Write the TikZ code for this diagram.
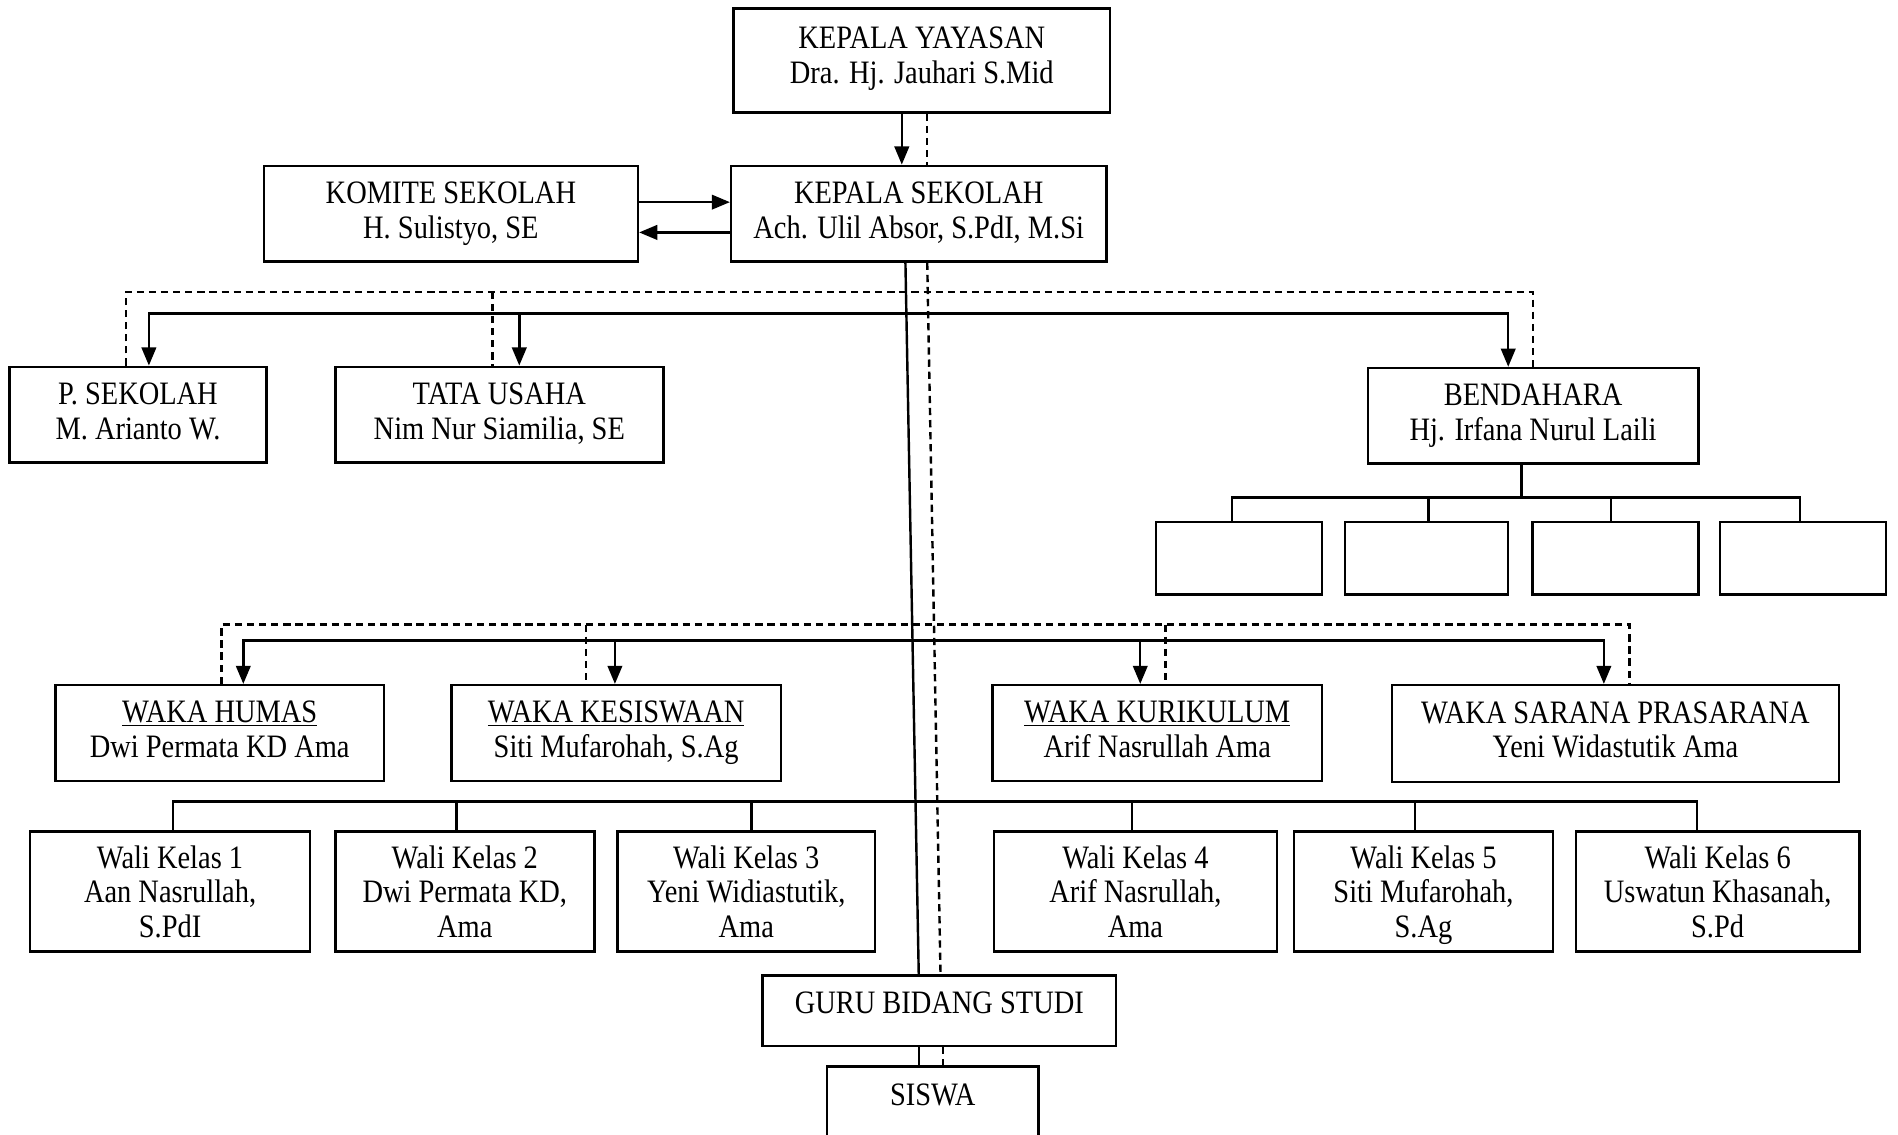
\documentclass[tikz,border=0pt]{standalone}
\usepackage{fontspec}
\setmainfont{Liberation Serif}[FakeStretch=0.87]
\usetikzlibrary{arrows.meta}

\tikzset{
    box/.style={draw, line width=2pt, align=center, inner sep=0pt, minimum height=79pt, text depth=6pt, font=\fontsize{27}{28.5}\selectfont},
    box wali/.style={box, minimum height=99pt},
    box empty/.style={draw, line width=2pt, inner sep=0pt, minimum width=137pt, minimum height=60pt},
    line/.style={line width=2pt},
    line dashed/.style={line width=2pt, dash pattern=on 6pt off 4pt},
    line arrow/.style={line, -{Triangle[length=15pt,width=12pt]}},
    line arrows/.style={line, {Triangle[length=15pt,width=12pt]}-{Triangle[length=15pt,width=12pt]}}
}

\begin{document}
\begin{tikzpicture}[x=1pt, y=-1pt]
        \useasboundingbox (0, 0) rectangle (1568, 937);

        % Pimpinan
        \node[box, minimum width=311pt, minimum height=86pt, text depth=9pt] (yayasan) at (761.5, 50) {KEPALA YAYASAN\\Dra. Hj. Jauhari S.Mid};
        \node[box, minimum width=310pt] (sekolah) at (759, 176.5) {KEPALA SEKOLAH\\Ach. Ulil Absor, S.PdI, M.Si};
        \node[box, minimum width=309pt] (komite) at (372.5, 176.5) {KOMITE SEKOLAH\\H. Sulistyo, SE};

        \draw[line arrow] ([xshift=-16.5pt]yayasan.south) -- ([xshift=-16.5pt]yayasan.south |- sekolah.north);
        \draw[line dashed] ([xshift=4.5pt]yayasan.south) -- ([xshift=4.5pt]yayasan.south |- sekolah.north);
        \draw[line arrow] ([yshift=9.5pt]komite.east) -- ([yshift=9.5pt]komite.east -| sekolah.west);
        \draw[line arrow] ([yshift=-15.5pt]sekolah.west) -- ([yshift=-15.5pt]sekolah.west -| komite.east);

        % Staf
        \node[box, minimum width=212pt] (psekolah) at (114, 342.5) {P. SEKOLAH\\M. Arianto W.};
        \node[box, minimum width=271pt] (tu) at (412.5, 342.5) {TATA USAHA\\Nim Nur Siamilia, SE};
        \node[box, minimum width=273pt] (bendahara) at (1266.5, 343.5) {BENDAHARA\\Hj. Irfana Nurul Laili};

        \coordinate (staffbus) at (0, 259);
        \coordinate (staffdash) at (0, 241);
        \draw[line arrows] ([xshift=9pt]psekolah.north) |- ([xshift=-20.5pt]bendahara.north |- staffbus) -- ([xshift=-20.5pt]bendahara.north);
        \draw[line arrow] ([xshift=16.5pt]tu.north |- staffbus) -- ([xshift=16.5pt]tu.north);
        \draw[line dashed] ([xshift=-10pt]psekolah.north) |- (bendahara.north |- staffdash) -- (bendahara.north);
        \draw[line dashed] ([xshift=-5.5pt]tu.north |- staffdash) -- ([xshift=-5.5pt]tu.north);

        % Bendahara
        \node[box empty] (e1) at (1023.5, 461) {};
        \node[box empty, minimum width=135pt] (e2) at (1178.5, 461) {};
        \node[box empty] (e3) at (1334.5, 461) {};
        \node[box empty] (e4) at (1489.5, 461) {};

        \coordinate (bendbus) at (0, 411);
        \draw[line] ([xshift=-9.5pt]bendahara.south) -- ([xshift=-9.5pt]bendahara.south |- bendbus);
        \draw[line] ([xshift=-5.5pt]e1.north) |- ([xshift=-2.5pt]e4.north |- bendbus) -- ([xshift=-2.5pt]e4.north);
        \foreach \n/\dx in {e2/1.5, e3/-3.5}
            \draw[line] ([xshift=\dx pt]\n.north |- bendbus) -- ([xshift=\dx pt]\n.north);

        % Waka
        \node[box, minimum width=271pt] (humas) at (181.5, 605.5) {\underline{WAKA HUMAS}\\Dwi Permata KD Ama};
        \node[box, minimum width=272pt] (kesiswaan) at (509, 605.5) {\underline{WAKA KESISWAAN}\\Siti Mufarohah, S.Ag};
        \node[box, minimum width=272pt] (kurikulum) at (956, 605.5) {\underline{WAKA KURIKULUM}\\Arif Nasrullah Ama};
        \node[box, minimum width=369pt, minimum height=80pt] (sarana) at (1334.5, 606) {WAKA SARANA PRASARANA\\Yeni Widastutik Ama};

        \coordinate (wakabus) at (0, 529);
        \coordinate (wakadash) at (0, 516);
        \draw[line arrows] ([xshift=19.5pt]humas.north) |- ([xshift=-9.5pt]sarana.north |- wakabus) -- ([xshift=-9.5pt]sarana.north);
        \foreach \n/\dx in {kesiswaan/-1, kurikulum/-14}
            \draw[line arrow] ([xshift=\dx pt]\n.north |- wakabus) -- ([xshift=\dx pt]\n.north);
        \draw[line dashed] ([xshift=1.5pt]humas.north) |- ([xshift=11.5pt]sarana.north |- wakadash) -- ([xshift=11.5pt]sarana.north);
        \foreach \n/\dx in {kesiswaan/-25, kurikulum/7}
            \draw[line dashed] ([xshift=\dx pt]\n.north |- wakadash) -- ([xshift=\dx pt]\n.north);

        % Wali Kelas
        \node[box wali, minimum width=231pt, text depth=-4pt] (wali1) at (140.5, 736.5) {Wali Kelas 1\\Aan Nasrullah,\\S.PdI};
        \node[box wali, minimum width=214pt, text depth=-4pt] (wali2) at (384, 736.5) {Wali Kelas 2\\Dwi Permata KD,\\Ama};
        \node[box wali, minimum width=213pt, text depth=-4pt] (wali3) at (616.5, 736.5) {Wali Kelas 3\\Yeni Widiastutik,\\Ama};
        \node[box wali, minimum width=234pt, text depth=-4pt] (wali4) at (938, 736.5) {Wali Kelas 4\\Arif Nasrullah,\\Ama};
        \node[box wali, minimum width=214pt, text depth=-4pt] (wali5) at (1176, 736.5) {Wali Kelas 5\\Siti Mufarohah,\\S.Ag};
        \node[box wali, minimum width=234pt, text depth=-4pt] (wali6) at (1419, 736.5) {Wali Kelas 6\\Uswatun Khasanah,\\S.Pd};

        \coordinate (walibus) at (0, 662);
        \draw[line] ([xshift=2.5pt]wali1.north) |- ([xshift=-17pt]wali6.north |- walibus) -- ([xshift=-17pt]wali6.north);
        \foreach \n/\dx in {wali2/-7, wali3/4.5, wali4/-3, wali5/-7}
            \draw[line] ([xshift=\dx pt]\n.north |- walibus) -- ([xshift=\dx pt]\n.north);

        % Guru dan Siswa
        \node[box, minimum width=292pt, minimum height=58pt, text depth=14pt] (guru) at (776, 835) {GURU BIDANG STUDI};
        \node[box, minimum width=175pt, minimum height=80pt, text depth=34pt, anchor=north] (siswa) at (770.5, 880) {SISWA};

        \draw[line] ([xshift=-11pt]sekolah.south) -- ([xshift=-17pt]guru.north);
        \draw[line dashed] ([xshift=7pt]sekolah.south) -- ([xshift=1pt]guru.north);
        \draw[line] ([xshift=-17pt]guru.south) -- ([xshift=-17pt]guru.south |- siswa.north);
        \draw[line dashed] ([xshift=3pt]guru.south) -- ([xshift=3pt]guru.south |- siswa.north);
\end{tikzpicture}
\end{document}
